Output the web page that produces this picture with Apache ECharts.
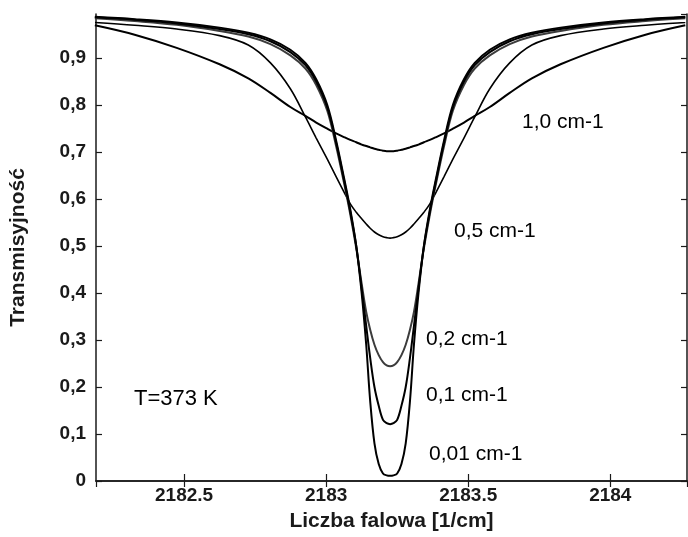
<!DOCTYPE html>
<html>
<head>
<meta charset="utf-8">
<script src="https://cdn.jsdelivr.net/npm/echarts@6/dist/echarts.min.js"></script>
<style>
html,body{margin:0;padding:0;background:#fff;}
#chart{width:688px;height:537px;}
</style>
</head>
<body>
<div id="chart"></div>
<script>
// Wavenumber positions (1/cm)
const wavenumbers = [2182.186, 2182.326, 2182.474, 2182.625, 2182.726, 2182.804, 2182.874, 2182.927, 2182.965, 2183.004, 2183.035, 2183.063, 2183.085, 2183.106, 2183.125, 2183.141, 2183.155, 2183.170, 2183.185, 2183.200, 2183.213, 2183.225, 2183.237, 2183.250, 2183.265, 2183.280, 2183.295, 2183.309, 2183.325, 2183.344, 2183.365, 2183.387, 2183.415, 2183.446, 2183.485, 2183.523, 2183.576, 2183.646, 2183.724, 2183.825, 2183.976, 2184.124, 2184.264];
// Transmission for each resolution
const res001 = [0.988,0.983,0.976,0.965,0.954,0.940,0.918,0.890,0.855,0.800,0.725,0.645,0.578,0.500,0.400,0.290,0.170,0.080,0.036,0.016,0.012,0.011,0.012,0.016,0.036,0.080,0.170,0.290,0.400,0.500,0.578,0.645,0.725,0.800,0.855,0.890,0.918,0.940,0.954,0.965,0.976,0.983,0.988];
const res01 = [0.987,0.982,0.974,0.962,0.951,0.936,0.913,0.885,0.850,0.795,0.720,0.640,0.573,0.500,0.410,0.330,0.262,0.200,0.160,0.130,0.123,0.121,0.123,0.130,0.160,0.200,0.262,0.330,0.410,0.500,0.573,0.640,0.720,0.795,0.850,0.885,0.913,0.936,0.951,0.962,0.974,0.982,0.987];
const res02 = [0.985,0.979,0.971,0.958,0.946,0.930,0.906,0.878,0.843,0.788,0.713,0.634,0.567,0.495,0.420,0.360,0.322,0.290,0.268,0.253,0.246,0.244,0.246,0.253,0.268,0.290,0.322,0.360,0.420,0.495,0.567,0.634,0.713,0.788,0.843,0.878,0.906,0.930,0.946,0.958,0.971,0.979,0.985];
const res05 = [0.976,0.970,0.962,0.948,0.928,0.890,0.835,0.775,0.730,0.685,0.648,0.615,0.590,0.572,0.558,0.547,0.538,0.530,0.524,0.520,0.518,0.517,0.518,0.520,0.524,0.530,0.538,0.547,0.558,0.572,0.590,0.615,0.648,0.685,0.730,0.775,0.835,0.890,0.928,0.948,0.962,0.970,0.976];
const res10 = [0.970,0.950,0.922,0.887,0.857,0.826,0.796,0.777,0.763,0.750,0.740,0.732,0.726,0.721,0.716,0.713,0.710,0.707,0.705,0.703,0.702,0.702,0.702,0.703,0.705,0.707,0.710,0.713,0.716,0.721,0.726,0.732,0.740,0.750,0.763,0.777,0.796,0.826,0.857,0.887,0.922,0.950,0.970];
const seriesNames = ['0,01 cm-1','0,1 cm-1','0,2 cm-1','0,5 cm-1','1,0 cm-1'];
const annotation = 'T=373 K';

const FONT = '"Liberation Sans", Arial, sans-serif';
const pairs = arr => wavenumbers.map((x, i) => [x, arr[i]]);
const fmtComma = v => (Math.round(v * 10) / 10).toString().replace('.', ',');

const axisLine = { show: true, lineStyle: { color: '#1a1a1a', width: 1.5 } };
const XMIN = 2182.19, XMAX = 2184.27, YMAX = 0.994;

const chart = echarts.init(document.getElementById('chart'), null, { renderer: 'canvas' });
const mkSeries = (name, data, color, width) => ({
  name: name, type: 'line', data: pairs(data), smooth: 0.35, symbol: 'none',
  lineStyle: { color: color, width: width }, itemStyle: { color: color },
  xAxisIndex: 0, yAxisIndex: 0, z: 3
});

chart.setOption({
  animation: false,
  backgroundColor: '#ffffff',
  grid: { left: 95, right: 1, top: 14, bottom: 53, containLabel: false },
  xAxis: [
    { type: 'value', min: XMIN, max: XMAX, splitNumber: 5, position: 'bottom',
      name: 'Liczba falowa [1/cm]', nameLocation: 'middle', nameGap: 30,
      nameTextStyle: { fontFamily: FONT, fontWeight: 'bold', fontSize: 21, color: '#1a1a1a' },
      axisLine: axisLine, splitLine: { show: false },
      axisTick: { show: true, inside: true, length: 7, lineStyle: { color: '#1a1a1a', width: 1.2 } },
      axisLabel: { showMinLabel: false, showMaxLabel: false, margin: 5, fontFamily: FONT, fontWeight: 'bold', fontSize: 19, color: '#1a1a1a',
        formatter: v => String(v) } },
    { type: 'value', min: XMIN, max: XMAX, splitNumber: 5, position: 'top',
      axisLine: axisLine, splitLine: { show: false },
      axisTick: { show: true, inside: true, length: 6, lineStyle: { color: '#1a1a1a', width: 1.2 } },
      axisLabel: { show: false } }
  ],
  yAxis: [
    { type: 'value', min: 0, max: YMAX, interval: 0.1, position: 'left',
      name: 'Transmisyjność', nameLocation: 'middle', nameGap: 67, nameRotate: 90,
      nameTextStyle: { fontFamily: FONT, fontWeight: 'bold', fontSize: 21, color: '#1a1a1a' },
      axisLine: axisLine, splitLine: { show: false },
      axisTick: { show: true, inside: true, length: 6, lineStyle: { color: '#1a1a1a', width: 1.2 } },
      axisLabel: { showMaxLabel: false, margin: 10, fontFamily: FONT, fontWeight: 'bold', fontSize: 19, color: '#1a1a1a',
        formatter: fmtComma } },
    { type: 'value', min: 0, max: YMAX, interval: 0.1, position: 'right',
      axisLine: axisLine, splitLine: { show: false },
      axisTick: { show: true, inside: true, length: 6, lineStyle: { color: '#1a1a1a', width: 1.2 } },
      axisLabel: { show: false } }
  ],
  series: [
    mkSeries(seriesNames[4], res10, '#000000', 2),
    mkSeries(seriesNames[3], res05, '#000000', 1.6),
    mkSeries(seriesNames[2], res02, '#3c3c3c', 2),
    mkSeries(seriesNames[1], res01, '#000000', 2),
    mkSeries(seriesNames[0], res001, '#000000', 2)
  ],
  graphic: [
    { type: 'text', left: 522, top: 112, style: { text: seriesNames[4], font: '21px ' + FONT, fill: '#000' } },
    { type: 'text', left: 454, top: 221, style: { text: seriesNames[3], font: '21px ' + FONT, fill: '#000' } },
    { type: 'text', left: 426, top: 329, style: { text: seriesNames[2], font: '21px ' + FONT, fill: '#000' } },
    { type: 'text', left: 426, top: 385, style: { text: seriesNames[1], font: '21px ' + FONT, fill: '#000' } },
    { type: 'text', left: 429, top: 444, style: { text: seriesNames[0], font: '21px ' + FONT, fill: '#000' } },
    { type: 'text', left: 134, top: 388, style: { text: annotation, font: '22px ' + FONT, fill: '#000' } }
  ]
});
</script>
</body>
</html>
